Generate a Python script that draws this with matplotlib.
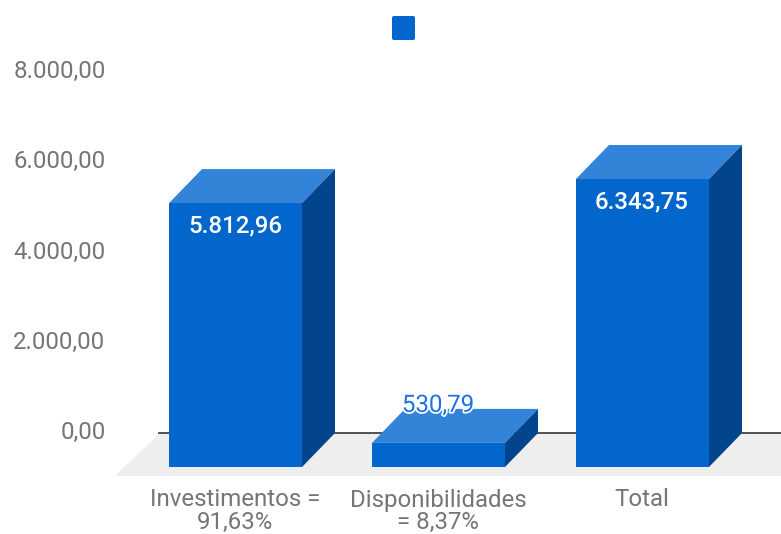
import matplotlib
matplotlib.use('Agg')
import matplotlib.pyplot as plt
import matplotlib.patheffects as pe
from matplotlib.patches import FancyBboxPatch, Polygon, Rectangle

categories = [['Investimentos =', '91,63%'], ['Disponibilidades', '= 8,37%'], ['Total']]
values = [5812.96, 530.79, 6343.75]
value_labels = ['5.812,96', '530,79', '6.343,75']
y_ticks = [0, 2000, 4000, 6000, 8000]
y_tick_labels = ['0,00', '2.000,00', '4.000,00', '6.000,00', '8.000,00']

front = '#0366cd'
top = '#3384d8'
side = '#03458c'
grey = '#757575'
fsize = 17.3

plt.rcParams['font.family'] = ['Roboto', 'DejaVu Sans']

fig = plt.figure(figsize=(7.81, 5.34), dpi=100)
ax = fig.add_axes([0, 0, 1, 1])
ax.set_xlim(0, 781)
ax.set_ylim(534, 0)
ax.axis('off')

# pixel scale of the value axis
y0 = 467
bar_scale = 0.0454
tick_scale = (431 - 70) / 8000
dx = 33
dy = 34
bar_left = [169, 372, 576]
bar_w = 133

# floor
ax.add_patch(Polygon([(115, 476), (160, 433), (781, 433), (781, 476)], closed=True, fc='#eeeeee', ec='none', zorder=1))
ax.plot([159, 781], [432.5, 432.5], color='#444444', lw=1.3, zorder=2)

for left, v, lab in zip(bar_left, values, value_labels):
    yt = y0 - v * bar_scale
    ax.add_patch(Rectangle((left, yt), bar_w, y0 - yt, fc=front, ec='none', zorder=3))
    ax.add_patch(Polygon([(left, yt), (left + dx, yt - dy), (left + bar_w + dx, yt - dy), (left + bar_w, yt)], closed=True, fc=top, ec='none', zorder=3))
    ax.add_patch(Polygon([(left + bar_w, yt), (left + bar_w + dx, yt - dy), (left + bar_w + dx, y0 - dy), (left + bar_w, y0)], closed=True, fc=side, ec='none', zorder=3))
    if v > 1000:
        ax.text(left + bar_w / 2 - 0.5, yt + 23, lab, color='white', fontsize=fsize, fontweight='medium', ha='center', va='center', zorder=5)
    else:
        # small bar, label sits above it with a white halo
        ax.text(left + bar_w / 2 - 0.5, yt - 37.5, lab, color='#1a73e8', fontsize=fsize, ha='center', va='center', zorder=5,
                path_effects=[pe.withStroke(linewidth=2.5, foreground='white')])

for t, lab in zip(y_ticks, y_tick_labels):
    ax.text(105.5, 432.5 - t * tick_scale, lab, color=grey, fontsize=fsize, ha='right', va='center')

for left, lines in zip(bar_left, categories):
    for i, line in enumerate(lines):
        ax.text(left + bar_w / 2 - 0.5, 500 + 22 * i, line, color=grey, fontsize=fsize, ha='center', va='center')

# legend swatch, no text
ax.add_patch(FancyBboxPatch((393, 17), 21, 22, boxstyle='round,pad=1,rounding_size=2', fc=front, ec='none', zorder=3))

fig.savefig('out.png', dpi=100)
